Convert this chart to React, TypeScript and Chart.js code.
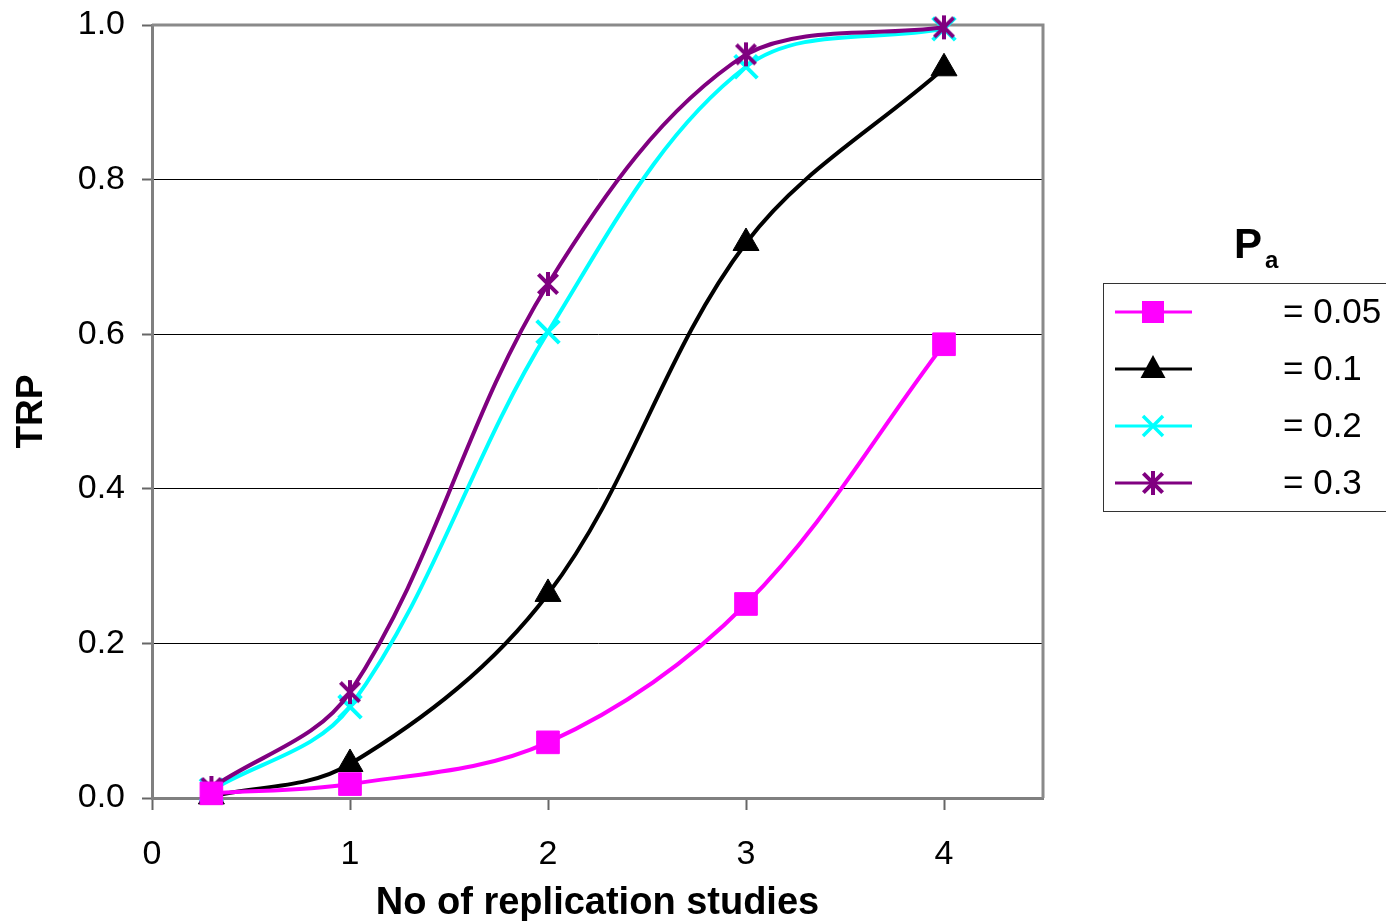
import React, { useEffect, useRef } from "react";
import { Chart, registerables } from "chart.js";

Chart.register(...registerables);

const xValues = [0.3, 1, 2, 3, 4];
const seriesLabels = ["= 0.05", "= 0.1", "= 0.2", "= 0.3"];
const pa005 = [0.006, 0.018, 0.072, 0.251, 0.587];
const pa01 = [0.002, 0.044, 0.264, 0.718, 0.944];
const pa02 = [0.01, 0.118, 0.603, 0.946, 0.995];
const pa03 = [0.013, 0.137, 0.665, 0.962, 0.997];
const xTitle = "No of replication studies";
const yTitle = "TRP";

const FONT = "'Liberation Sans', Arial, sans-serif";

function makeAsterisk(color: string, size: number, lw: number) {
  const c = document.createElement("canvas");
  c.width = size;
  c.height = size;
  const ctx = c.getContext("2d")!;
  const h = size / 2;
  const r = h - 2;
  ctx.strokeStyle = color;
  ctx.lineWidth = lw;
  ctx.lineCap = "butt";
  ctx.beginPath();
  ctx.moveTo(h, h - r);
  ctx.lineTo(h, h + r);
  const d = r * 0.8;
  ctx.moveTo(h - d, h - d);
  ctx.lineTo(h + d, h + d);
  ctx.moveTo(h + d, h - d);
  ctx.lineTo(h - d, h + d);
  ctx.stroke();
  return c;
}

export default function App() {
  const ref = useRef<HTMLCanvasElement | null>(null);

  useEffect(() => {
    if (!ref.current) return;
    const asterisk = makeAsterisk("#800080", 28, 4);
    const toPts = (arr: number[]) => arr.map((y, i) => ({ x: xValues[i], y }));

    const styles = [
      { color: "#FF00FF", style: "rect", radius: 16 },
      { color: "#000000", style: "triangle", radius: 15 },
      { color: "#00FFFF", style: "crossRot", radius: 16 },
      { color: "#800080", style: asterisk as any, radius: 14 },
    ];
    const values = [pa005, pa01, pa02, pa03];
    const orders = [0, 3, 2, 1];

    const datasets = values.map((v, i) => ({
      label: seriesLabels[i],
      data: toPts(v),
      borderColor: styles[i].color,
      backgroundColor: styles[i].color,
      borderWidth: 4,
      pointStyle: styles[i].style,
      pointRadius: styles[i].radius,
      pointHoverRadius: styles[i].radius,
      pointBorderWidth: i === 2 ? 4 : 1,
      pointBorderColor: styles[i].color,
      pointBackgroundColor: styles[i].color,
      tension: 0.35,
      clip: false as any,
      order: orders[i],
    }));

    const framePlugin = {
      id: "frame",
      beforeDatasetsDraw(chart: any) {
        const { ctx, chartArea } = chart;
        ctx.save();
        ctx.strokeStyle = "#8a8a8a";
        ctx.lineWidth = 3;
        ctx.beginPath();
        ctx.moveTo(chartArea.left, chartArea.top);
        ctx.lineTo(chartArea.right, chartArea.top);
        ctx.lineTo(chartArea.right, chartArea.bottom);
        ctx.stroke();
        ctx.restore();
      },
    };

    const legendPlugin = {
      id: "customLegend",
      afterDraw(chart: any) {
        const ctx = chart.ctx as CanvasRenderingContext2D;
        ctx.save();
        ctx.fillStyle = "#000";
        ctx.textBaseline = "alphabetic";
        ctx.textAlign = "left";
        ctx.font = `bold 42px ${FONT}`;
        ctx.fillText("P", 1234, 258);
        ctx.font = `bold 24px ${FONT}`;
        ctx.fillText("a", 1265, 268);
        ctx.strokeStyle = "#333";
        ctx.lineWidth = 1;
        ctx.strokeRect(1103.5, 283.5, 290, 228);
        const ys = [312, 369, 426, 483];
        ys.forEach((y, i) => {
          const s = styles[i];
          ctx.strokeStyle = s.color;
          ctx.fillStyle = s.color;
          ctx.lineWidth = 3;
          ctx.beginPath();
          ctx.moveTo(1115, y);
          ctx.lineTo(1192, y);
          ctx.stroke();
          const cx = 1153;
          if (i === 0) {
            ctx.fillRect(cx - 11, y - 11, 22, 22);
          } else if (i === 1) {
            ctx.beginPath();
            ctx.moveTo(cx, y - 14);
            ctx.lineTo(cx + 12.5, y + 9);
            ctx.lineTo(cx - 12.5, y + 9);
            ctx.closePath();
            ctx.fill();
          } else if (i === 2) {
            ctx.lineWidth = 3.5;
            ctx.beginPath();
            ctx.moveTo(cx - 10, y - 10);
            ctx.lineTo(cx + 10, y + 10);
            ctx.moveTo(cx + 10, y - 10);
            ctx.lineTo(cx - 10, y + 10);
            ctx.stroke();
          } else {
            ctx.drawImage(asterisk, cx - asterisk.width / 2, y - asterisk.height / 2);
          }
          ctx.fillStyle = "#000";
          ctx.font = `35px ${FONT}`;
          ctx.textBaseline = "middle";
          ctx.fillText(seriesLabels[i], 1283, y + 1);
        });
        ctx.restore();
      },
    };

    const chart = new Chart(ref.current, {
      type: "line",
      data: { datasets: datasets as any },
      options: {
        animation: false,
        responsive: false,
        events: [],
        layout: { padding: { top: 25, right: 343, left: 0, bottom: 0 } },
        plugins: { legend: { display: false }, tooltip: { enabled: false } },
        scales: {
          x: {
            type: "linear",
            min: 0,
            max: 4.5,
            afterBuildTicks: (s: any) => {
              s.ticks = s.ticks.filter((t: any) => Number.isInteger(t.value));
            },
            afterFit: (s: any) => {
              s.height = 123;
              s.paddingLeft = 0;
              s.paddingRight = 0;
            },
            ticks: {
              stepSize: 1,
              color: "#000",
              font: { family: FONT, size: 34 },
              padding: 24,
              maxRotation: 0,
            },
            grid: {
              drawOnChartArea: false,
              drawTicks: true,
              tickLength: 12,
              tickColor: "#666",
              tickWidth: 2,
            },
            border: { color: "#808080", width: 3 },
            title: {
              display: true,
              text: xTitle,
              color: "#000",
              font: { family: FONT, size: 38, weight: "bold" },
              padding: { top: 0, bottom: -5 },
            },
          },
          y: {
            type: "linear",
            min: 0,
            max: 1,
            afterFit: (s: any) => {
              s.width = 152;
              s.paddingTop = 0;
              s.paddingBottom = 0;
            },
            ticks: {
              stepSize: 0.2,
              color: "#000",
              font: { family: FONT, size: 34 },
              padding: 17,
              callback: (v: any) => Number(v).toFixed(1),
            },
            grid: {
              color: "#000",
              lineWidth: 1,
              drawTicks: true,
              tickLength: 10,
              tickColor: "#666",
              tickWidth: 2,
            },
            border: { color: "#808080", width: 3 },
            title: {
              display: true,
              text: yTitle,
              color: "#000",
              font: { family: FONT, size: 37, weight: "bold" },
              padding: { top: 10, bottom: 0 },
            },
          },
        },
      },
      plugins: [framePlugin, legendPlugin],
    });

    return () => chart.destroy();
  }, []);

  return (
    <div style={{ position: "absolute", left: 0, top: 0, width: 1386, height: 921, background: "#fff" }}>
      <canvas ref={ref} width={1386} height={921} style={{ display: "block", width: 1386, height: 921 }} />
    </div>
  );
}
